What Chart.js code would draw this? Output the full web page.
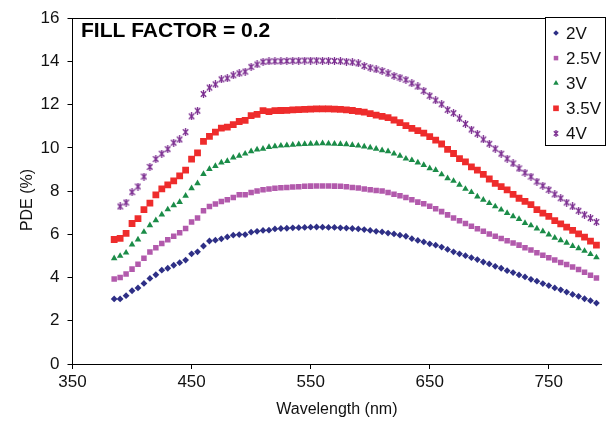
<!DOCTYPE html>
<html>
<head>
<meta charset="utf-8">
<script src="https://cdn.jsdelivr.net/npm/chart.js@4.4.0/dist/chart.umd.min.js"></script>
<style>
  html, body { margin: 0; padding: 0; background: #fff; }
  #wrap { width: 606px; height: 423px; }
</style>
</head>
<body>
<div id="wrap"><canvas id="pdeChart" width="606" height="423"></canvas></div>
<script>
// wavelength samples (nm)
const wavelengths = [385, 390, 395, 400, 405, 410, 415, 420, 425, 430, 435, 440, 445, 450, 455, 460, 465, 470, 475, 480,
  485, 490, 495, 500, 505, 510, 515, 520, 525, 530, 535, 540, 545, 550, 555, 560, 565, 570, 575, 580,
  585, 590, 595, 600, 605, 610, 615, 620, 625, 630, 635, 640, 645, 650, 655, 660, 665, 670, 675, 680,
  685, 690, 695, 700, 705, 710, 715, 720, 725, 730, 735, 740, 745, 750, 755, 760, 765, 770, 775, 780,
  785, 790];

// PDE (%) per bias voltage
const pde2V = [3.01, 3.01, 3.16, 3.39, 3.52, 3.73, 3.96, 4.13, 4.34, 4.43, 4.57, 4.69, 4.81, 5.10, 5.19, 5.46, 5.69, 5.73, 5.79, 5.88,
  5.96, 5.99, 5.99, 6.10, 6.14, 6.18, 6.19, 6.25, 6.27, 6.28, 6.30, 6.31, 6.32, 6.33, 6.34, 6.33, 6.32, 6.32, 6.30, 6.29,
  6.27, 6.25, 6.22, 6.18, 6.14, 6.11, 6.06, 6.02, 5.96, 5.91, 5.80, 5.72, 5.65, 5.56, 5.50, 5.41, 5.30, 5.19, 5.10, 5.01,
  4.92, 4.83, 4.72, 4.63, 4.52, 4.43, 4.32, 4.23, 4.12, 4.03, 3.92, 3.83, 3.72, 3.63, 3.52, 3.43, 3.33, 3.22, 3.13, 3.02,
  2.93, 2.82];
const pde25V = [3.93, 4.00, 4.16, 4.39, 4.62, 4.89, 5.18, 5.38, 5.58, 5.75, 5.91, 6.07, 6.27, 6.57, 6.75, 7.09, 7.29, 7.40, 7.52, 7.60,
  7.70, 7.83, 7.83, 7.93, 8.01, 8.06, 8.10, 8.13, 8.15, 8.17, 8.19, 8.20, 8.22, 8.23, 8.24, 8.24, 8.24, 8.23, 8.22, 8.20,
  8.17, 8.14, 8.10, 8.06, 8.03, 8.00, 7.93, 7.85, 7.78, 7.70, 7.60, 7.49, 7.41, 7.30, 7.18, 7.05, 6.90, 6.76, 6.63, 6.50,
  6.37, 6.26, 6.14, 6.02, 5.91, 5.81, 5.70, 5.60, 5.50, 5.38, 5.27, 5.15, 5.03, 4.92, 4.81, 4.70, 4.60, 4.49, 4.37, 4.24,
  4.11, 3.98];
const pde3V = [4.89, 5.00, 5.15, 5.53, 5.76, 6.11, 6.42, 6.65, 6.91, 7.15, 7.34, 7.49, 7.78, 8.13, 8.36, 8.79, 9.02, 9.16, 9.32, 9.39,
  9.55, 9.63, 9.73, 9.84, 9.92, 9.96, 10.04, 10.07, 10.10, 10.12, 10.14, 10.16, 10.18, 10.19, 10.20, 10.21, 10.20, 10.19, 10.18, 10.16,
  10.13, 10.10, 10.06, 10.01, 9.96, 9.89, 9.84, 9.73, 9.63, 9.50, 9.43, 9.32, 9.20, 9.05, 8.97, 8.77, 8.59, 8.47, 8.29, 8.10,
  7.95, 7.75, 7.60, 7.44, 7.29, 7.14, 6.98, 6.83, 6.71, 6.52, 6.41, 6.27, 6.14, 5.99, 5.84, 5.72, 5.61, 5.46, 5.35, 5.23,
  5.08, 4.93];
const pde35V = [5.76, 5.81, 6.04, 6.50, 6.73, 7.14, 7.44, 7.83, 8.10, 8.29, 8.47, 8.70, 8.97, 9.48, 9.77, 10.30, 10.53, 10.73, 10.91, 10.96,
  11.08, 11.22, 11.27, 11.49, 11.55, 11.72, 11.68, 11.72, 11.73, 11.74, 11.76, 11.77, 11.78, 11.79, 11.80, 11.80, 11.80, 11.79, 11.78, 11.76,
  11.73, 11.69, 11.65, 11.58, 11.52, 11.46, 11.40, 11.29, 11.17, 11.03, 10.90, 10.80, 10.68, 10.52, 10.36, 10.18, 9.93, 9.74, 9.50, 9.35,
  9.12, 8.97, 8.77, 8.56, 8.36, 8.21, 8.06, 7.85, 7.67, 7.52, 7.37, 7.14, 6.98, 6.83, 6.63, 6.48, 6.33, 6.18, 6.02, 5.87,
  5.69, 5.50];
const pde4V = [null, 7.29, 7.47, 7.95, 8.21, 8.67, 9.12, 9.48, 9.73, 9.94, 10.24, 10.39, 10.73, 11.46, 11.72, 12.49, 12.79, 12.94, 13.17, 13.22,
  13.36, 13.45, 13.53, 13.75, 13.86, 13.98, 14.00, 14.01, 14.01, 14.02, 14.03, 14.03, 14.04, 14.04, 14.04, 14.03, 14.03, 14.02, 14.01, 13.99,
  13.96, 13.91, 13.79, 13.71, 13.63, 13.56, 13.45, 13.33, 13.25, 13.15, 12.99, 12.84, 12.64, 12.41, 12.20, 12.02, 11.76, 11.61, 11.36, 11.11,
  10.85, 10.65, 10.39, 10.19, 9.96, 9.73, 9.50, 9.28, 9.05, 8.85, 8.67, 8.44, 8.25, 8.06, 7.85, 7.67, 7.47, 7.29, 7.09, 6.91,
  6.75, 6.57];

const seriesLabels = ['2V', '2.5V', '3V', '3.5V', '4V'];
const xTickValues = [350, 450, 550, 650, 750];
const yTickValues = [0, 2, 4, 6, 8, 10, 12, 14, 16];

const FONT = "'Liberation Sans', Arial, Helvetica, sans-serif";
Chart.defaults.font.family = FONT;
Chart.defaults.color = '#111';

// Excel-style star marker: an x with a vertical bar through it
function starMarker(w, h, color) {
  const c = document.createElement('canvas');
  c.width = w; c.height = h;
  const g = c.getContext('2d');
  g.strokeStyle = color;
  g.lineWidth = 1.3;
  g.beginPath();
  g.moveTo(0.8, 1.2); g.lineTo(w - 0.8, h - 1.2);
  g.moveTo(w - 0.8, 1.2); g.lineTo(0.8, h - 1.2);
  g.moveTo(w / 2, 0); g.lineTo(w / 2, h);
  g.stroke();
  return c;
}

const toPoints = vals => wavelengths
  .map((w, i) => ({ x: w, y: vals[i] }))
  .filter(p => p.y !== null);

const styles = [
  { color: '#2e2f86', pointStyle: 'rectRot', radius: 3.4, legendRadius: 2.8 },
  { color: '#b25aac', pointStyle: 'rect', radius: 3.9, legendRadius: 3.2 },
  { color: '#1b8c48', pointStyle: 'triangle', radius: 3.8, legendRadius: 3.2 },
  { color: '#ee2c2c', pointStyle: 'rect', radius: 4.8, legendRadius: 4.0 },
  { color: '#7b2d90', pointStyle: starMarker(7, 8, '#7b2d90'), radius: 4, legendRadius: 3,
    legendImage: starMarker(6, 7, '#7b2d90') }
];

const seriesValues = [pde2V, pde25V, pde3V, pde35V, pde4V];

const datasets = seriesValues.map((vals, i) => ({
  label: seriesLabels[i],
  data: toPoints(vals),
  showLine: false,
  pointStyle: styles[i].pointStyle,
  pointRadius: styles[i].radius,
  pointHoverRadius: styles[i].radius,
  pointBackgroundColor: styles[i].color,
  pointBorderColor: styles[i].color,
  pointBorderWidth: 0
}));

// frame line, chart title, y axis title and the boxed legend
const decorations = {
  id: 'decorations',
  afterDraw(chart) {
    const ctx = chart.ctx;
    const area = chart.chartArea;
    ctx.save();

    ctx.strokeStyle = '#000';
    ctx.lineWidth = 1;
    ctx.beginPath();
    ctx.moveTo(area.left, Math.round(area.top) + 0.5);
    ctx.lineTo(area.right, Math.round(area.top) + 0.5);
    ctx.stroke();

    ctx.fillStyle = '#000';
    ctx.font = 'bold 21px ' + FONT;
    ctx.textAlign = 'left';
    ctx.textBaseline = 'alphabetic';
    ctx.fillText('FILL FACTOR = 0.2', 81, 36.5);

    ctx.save();
    ctx.translate(28, 200);
    ctx.rotate(-Math.PI / 2);
    ctx.font = '16px ' + FONT;
    ctx.fillStyle = '#111';
    ctx.textAlign = 'center';
    ctx.textBaseline = 'middle';
    ctx.fillText('PDE (%)', 0, 0);
    ctx.restore();

    // legend
    ctx.fillStyle = '#fff';
    ctx.fillRect(546, 17, 60, 128);
    ctx.strokeStyle = '#000';
    ctx.strokeRect(545.5, 17.5, 60, 128);
    ctx.font = '17px ' + FONT;
    ctx.textAlign = 'left';
    ctx.textBaseline = 'middle';
    seriesLabels.forEach((label, i) => {
      const y = 33 + i * 25.1;
      const st = styles[i];
      ctx.fillStyle = st.color;
      Chart.helpers.drawPoint(ctx, {
        pointStyle: st.legendImage || st.pointStyle,
        radius: st.legendRadius,
        rotation: 0,
        borderWidth: 0
      }, 556, y);
      ctx.fillStyle = '#111';
      ctx.fillText(label, 566, y + 1);
    });

    ctx.restore();
  }
};

const axisGrid = {
  display: true,
  drawOnChartArea: false,
  drawTicks: true,
  tickLength: 5,
  color: '#000',
  lineWidth: 1
};

new Chart(document.getElementById('pdeChart').getContext('2d'), {
  type: 'scatter',
  data: { datasets },
  options: {
    responsive: false,
    animation: false,
    devicePixelRatio: 1,
    layout: { padding: { top: 14, right: 0, left: 0, bottom: 0 } },
    plugins: {
      legend: { display: false },
      tooltip: { enabled: false }
    },
    scales: {
      x: {
        type: 'linear',
        position: 'bottom',
        min: 350,
        max: 794,
        grid: axisGrid,
        border: { display: true, color: '#000', width: 1 },
        ticks: { font: { size: 17 }, color: '#111', padding: 3, maxRotation: 0 },
        afterBuildTicks: scale => { scale.ticks = xTickValues.map(v => ({ value: v })); },
        afterFit: scale => { scale.height = 59; },
        title: {
          display: true,
          text: 'Wavelength (nm)',
          font: { size: 16 },
          color: '#111',
          padding: { top: 0, bottom: 4 }
        }
      },
      y: {
        type: 'linear',
        min: 0,
        max: 16,
        grid: axisGrid,
        border: { display: true, color: '#000', width: 1 },
        ticks: { font: { size: 17 }, color: '#111', padding: 8 },
        afterBuildTicks: scale => { scale.ticks = yTickValues.map(v => ({ value: v })); },
        afterFit: scale => { scale.width = 72.5; }
      }
    }
  },
  plugins: [decorations]
});
</script>
</body>
</html>
